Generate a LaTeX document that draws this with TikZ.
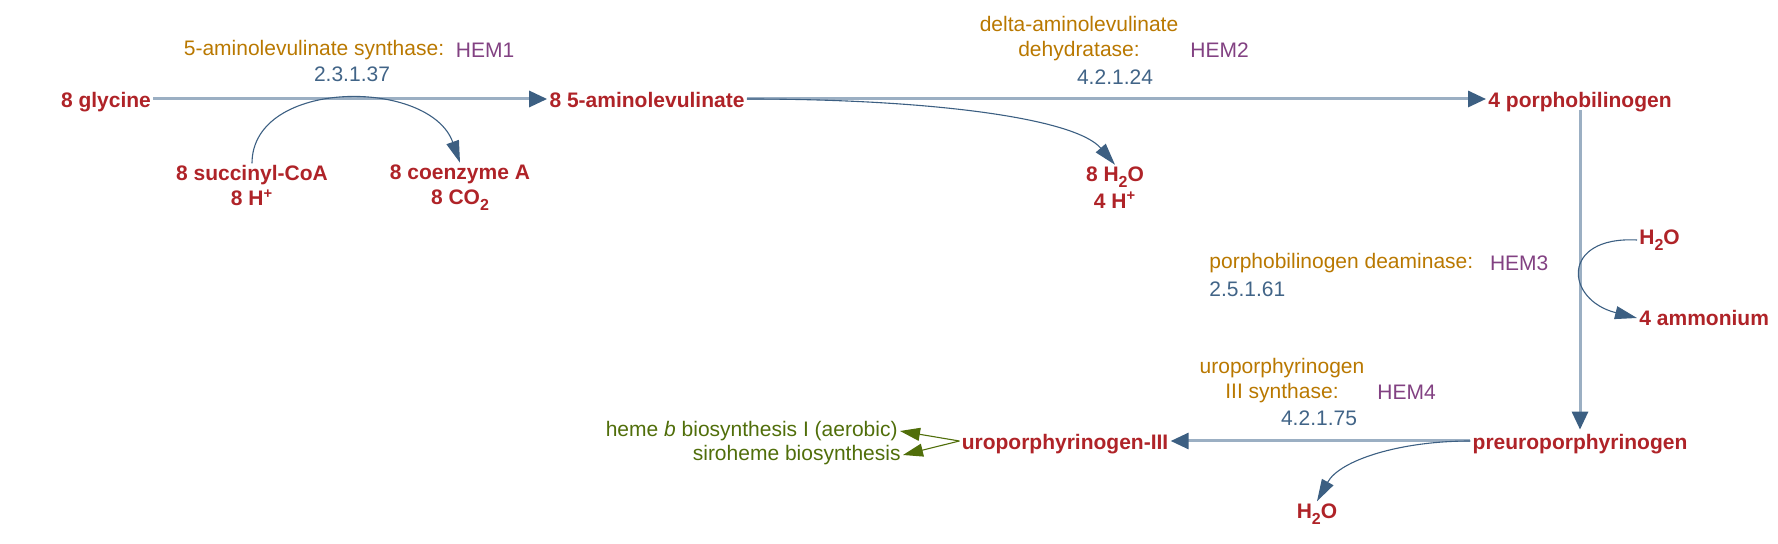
\documentclass[tikz,border=0pt]{standalone}
\usepackage{fontspec}
\setmainfont{Liberation Sans}
\usepackage{tikz}
\usetikzlibrary{arrows.meta}
\usetikzlibrary{positioning}
\definecolor{cpdred}{RGB}{175,35,40}
\definecolor{enzgold}{RGB}{185,120,0}
\definecolor{genepurple}{RGB}{130,65,130}
\definecolor{ecblue}{RGB}{65,100,135}
\definecolor{rxnline}{RGB}{155,175,195}
\definecolor{tipblue}{RGB}{60,95,130}
\definecolor{pwgreen}{RGB}{80,110,10}
\newcommand{\chsub}[1]{\raisebox{-3pt}{\fontsize{8}{8}\selectfont #1}}
\tikzset{
	cpd/.style={font=\fontsize{10.5}{12.5}\selectfont\bfseries,text=cpdred,inner sep=1pt,align=center},
	maincpd/.style={cpd,text height=9pt,text depth=0pt},
	enz/.style={font=\fontsize{10.5}{12.5}\selectfont,text=enzgold,inner sep=0pt,align=center},
	gene/.style={font=\fontsize{10.5}{12.5}\selectfont,text=genepurple,inner sep=0pt},
	ecnum/.style={font=\fontsize{10.5}{12.5}\selectfont,text=ecblue,inner sep=0pt},
	pwlink/.style={font=\fontsize{10.5}{12.5}\selectfont,text=pwgreen,inner sep=1pt},
	mainrxn/.style={rxnline,line width=1.5pt,-{Triangle[length=9pt,width=8pt,color=tipblue]}},
	side/.style={tipblue,line width=0.55pt,-{Triangle[length=11pt,width=6.5pt]}},
	golink/.style={pwgreen,line width=0.55pt,-{Triangle[length=10pt,width=6.5pt]}},
}

\begin{document}
\begin{tikzpicture}[x=0.5pt,y=-0.5pt]
\useasboundingbox (0,0) rectangle (1778,544);
%COMPOUNDS
\node[maincpd] (gly) at (106,99) {8 glycine};
\node[maincpd] (ala) at (647,99) {8 5-aminolevulinate};
\node[maincpd] (pbg) at (1580,99) {4 porphobilinogen};
\node[maincpd] (pre) at (1580,441) {preuroporphyrinogen};
\node[maincpd] (uro) at (1065,441) {uroporphyrinogen-III};
\node[cpd] (succ) at (252,186) {8 succinyl-CoA\\8 H\textsuperscript{+}};
\node[cpd] (coa) at (460,188) {8 coenzyme A\\8 CO\chsub{2}};
\node[cpd] (wat1) at (1115,188) {8 H\chsub{2}O\\[1pt]4 H\textsuperscript{+}};
\node[cpd,anchor=west] (wat2) at (1637,240) {H\chsub{2}O};
\node[cpd,anchor=west] (amm) at (1637,318) {4 ammonium};
\node[cpd] (wat3) at (1317,514) {H\chsub{2}O};
%PATHWAY LINKS
\node[pwlink,anchor=east] (heme) at (900,431) {heme \textit{b} biosynthesis I (aerobic)};
\node[pwlink,anchor=east] (siro) at (903,455) {siroheme biosynthesis};
%ENZYMES
\node[enz] (enz1) at (314,50) {5-aminolevulinate synthase:};
\node[gene,right=5.5pt of enz1] (hem1) {HEM1};
\node[ecnum] (ec1) at (352,74) {2.3.1.37};
\node[enz] (enz2) at (1079,39) {delta-aminolevulinate\\dehydratase:};
\node[gene,anchor=west] (hem2) at (1190,50) {HEM2};
\node[ecnum] (ec2) at (1115,77) {4.2.1.24};
\node[enz,anchor=west] (enz3) at (1209,263) {porphobilinogen deaminase:};
\node[gene,right=8pt of enz3] (hem3) {HEM3};
\node[ecnum,anchor=west] (ec3) at (1209,289) {2.5.1.61};
\node[enz] (enz4) at (1282,381) {uroporphyrinogen\\III synthase:};
\node[gene,anchor=west] (hem4) at (1377,392) {HEM4};
\node[ecnum] (ec4) at (1319,418) {4.2.1.75};
%MAIN REACTIONS
\draw[mainrxn] (gly) -- (ala);
\draw[mainrxn] (ala) -- (pbg);
\draw[mainrxn] (pbg) -- (pre);
\draw[mainrxn] (pre) -- (uro);
%SIDE COMPOUNDS
\draw[side] (succ.north) .. controls (252,78) and (430,78) .. (coa.north);
\draw[side] (ala.east) .. controls (930,99) and (1075,118) .. (wat1.north);
\draw[side] (wat2.west) .. controls (1560,236) and (1565,300) .. (amm.west);
\draw[side] (pre.west) .. controls (1400,441) and (1340,460) .. (wat3.north);
%LINKS
\draw[golink] (uro.west) -- (heme.east);
\draw[golink] (uro.west) -- (siro.east);
\end{tikzpicture}
\end{document}
